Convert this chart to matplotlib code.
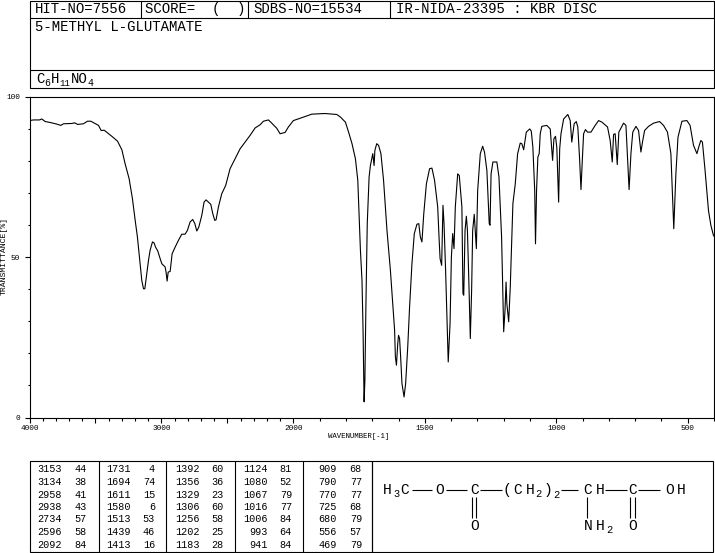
import numpy as np
import matplotlib
matplotlib.use('Agg')
import matplotlib.pyplot as plt
from matplotlib.ticker import NullFormatter

plt.rcParams['font.family'] = ['Liberation Mono', 'DejaVu Sans Mono']

W, H = 715, 553

# spectrum
wavenumber = [4000, 3970, 3924, 3907, 3881, 3843, 3793, 3763, 3742, 3679, 3657, 3636, 3591, 3561, 3535, 3477,
              3457, 3434, 3376, 3333, 3300, 3275, 3245, 3220, 3199, 3182, 3167, 3149, 3136, 3126, 3111, 3098,
              3086, 3068, 3056, 3045, 3028, 3010, 2997, 2985, 2972, 2965, 2957, 2949, 2934, 2919, 2896, 2871,
              2846, 2821, 2803, 2783, 2763, 2747, 2732, 2717, 2694, 2677, 2662, 2626, 2611, 2596, 2586, 2568,
              2543, 2513, 2480, 2442, 2404, 2366, 2328, 2290, 2252, 2227, 2189, 2164, 2126, 2101, 2063, 2038,
              2000, 1975, 1930, 1880, 1835, 1821, 1802, 1790, 1777, 1764, 1755, 1749, 1745, 1739, 1735, 1731,
              1728, 1724, 1719, 1712, 1707, 1698, 1693, 1690, 1683, 1676, 1667, 1657, 1644, 1631, 1621, 1615,
              1612, 1608, 1603, 1600, 1596, 1592, 1587, 1579, 1573, 1565, 1558, 1549, 1540, 1530, 1523, 1517,
              1511, 1504, 1494, 1482, 1473, 1463, 1451, 1446, 1442, 1436, 1431, 1427, 1421, 1416, 1411, 1404,
              1399, 1394, 1389, 1384, 1375, 1369, 1359, 1355, 1352, 1347, 1342, 1338, 1333, 1327, 1322, 1318,
              1312, 1304, 1299, 1289, 1280, 1273, 1264, 1255, 1252, 1248, 1241, 1226, 1218, 1208, 1200, 1195,
              1191, 1188, 1181, 1175, 1165, 1156, 1147, 1137, 1131, 1124, 1114, 1101, 1095, 1089, 1082, 1079,
              1075, 1070, 1065, 1061, 1055, 1036, 1023, 1018, 1014, 1009, 1003, 998, 991, 987, 982, 972,
              956, 947, 941, 932, 924, 918, 911, 906, 901, 896, 889, 881, 868, 852, 839, 826,
              805, 795, 787, 782, 776, 768, 762, 744, 735, 729, 723, 716, 709, 697, 687, 678,
              671, 664, 649, 630, 607, 592, 577, 564, 553, 545, 537, 522, 503, 491, 478, 465,
              456, 450, 444, 434, 421, 412, 402, 400]
transmittance = [92.5, 92.7, 92.7, 93.0, 92.2, 91.9, 91.4, 91.0, 91.5, 91.6, 91.8, 91.3, 91.5, 92.3, 92.3, 91.0,
                 89.4, 89.5, 87.6, 86.1, 83.4, 79.0, 74.4, 68.2, 61.4, 56.2, 50.0, 42.7, 40.1, 40.1, 44.8, 49.0,
                 52.1, 54.7, 54.4, 53.1, 51.9, 49.5, 47.9, 47.4, 46.9, 45.3, 42.5, 45.3, 45.5, 51.0, 53.1, 55.2,
                 57.1, 57.1, 58.3, 60.9, 61.7, 60.4, 58.1, 59.3, 63.0, 67.1, 67.8, 66.4, 63.5, 61.4, 61.6, 65.6,
                 69.7, 72.3, 77.5, 80.6, 83.7, 85.8, 87.9, 90.2, 91.2, 92.3, 92.7, 91.7, 90.1, 88.4, 88.8, 90.5,
                 92.5, 93.2, 94.5, 94.7, 94.4, 93.6, 92.0, 88.9, 85.3, 80.6, 73.9, 60.4, 52.1, 42.7, 27.2, 4.9,
                 11.6, 35.5, 60.4, 74.9, 78.5, 82.2, 78.5, 83.2, 85.3, 84.8, 82.2, 73.9, 58.3, 45.9, 34.4, 27.2,
                 18.9, 16.3, 23.0, 25.6, 24.6, 18.9, 10.6, 6.4, 10.6, 22.0, 34.4, 47.9, 57.3, 60.2, 60.4, 56.2,
                 54.7, 63.5, 72.8, 77.5, 77.7, 73.9, 65.6, 56.2, 49.5, 47.4, 66.1, 60.4, 45.9, 31.3, 17.3, 29.3,
                 50.0, 57.3, 52.6, 65.6, 75.9, 75.4, 65.6, 38.6, 38.1, 58.3, 62.7, 58.3, 43.8, 24.6, 39.6, 58.3,
                 63.3, 52.6, 70.7, 82.2, 84.5, 82.7, 77.0, 60.4, 59.9, 75.9, 79.6, 79.6, 74.9, 56.2, 26.7, 33.4,
                 42.2, 35.5, 29.8, 40.7, 66.6, 72.8, 82.2, 85.5, 85.3, 83.4, 88.9, 89.9, 89.2, 84.2, 70.7, 54.1,
                 70.7, 81.1, 82.2, 88.4, 90.7, 91.0, 89.9, 84.2, 80.1, 86.8, 87.6, 84.2, 67.1, 83.7, 88.4, 93.0,
                 94.4, 92.5, 85.8, 91.5, 92.2, 90.5, 80.1, 71.0, 80.1, 88.4, 89.7, 88.9, 88.9, 91.0, 92.5, 92.0,
                 90.5, 86.3, 79.6, 88.2, 88.4, 78.8, 88.9, 91.7, 91.0, 81.1, 71.0, 82.2, 88.9, 90.7, 89.4, 82.7,
                 86.3, 89.4, 90.7, 91.7, 92.2, 91.0, 88.9, 82.2, 58.8, 75.9, 87.3, 92.3, 92.5, 91.0, 84.8, 82.2,
                 84.8, 86.3, 85.8, 77.0, 64.5, 59.9, 56.7, 56.5]

x_major = [4000, 3500, 3000, 2500, 2000, 1500, 1000, 500]
x_labels = ['4000', '', '3000', '', '2000', '1500', '1000', '500']
y_major = [0, 50, 100]
y_labels = ['0', '50', '100']

# peak table, one list per column block
peak_wave = [[3153, 3134, 2958, 2938, 2734, 2596, 2092],
             [1731, 1694, 1611, 1580, 1513, 1439, 1413],
             [1392, 1356, 1329, 1306, 1256, 1202, 1183],
             [1124, 1080, 1067, 1016, 1006, 993, 941],
             [909, 790, 770, 725, 680, 556, 469]]
peak_trans = [[44, 38, 41, 43, 57, 58, 84],
              [4, 74, 15, 6, 53, 46, 16],
              [60, 36, 23, 60, 58, 25, 28],
              [81, 52, 79, 77, 84, 64, 84],
              [68, 77, 77, 68, 79, 57, 79]]

fig = plt.figure(figsize=(W / 100, H / 100), dpi=100)

# full figure overlay in pixel coordinates for the frames and captions
bg = fig.add_axes([0, 0, 1, 1])
bg.set_xlim(0, W)
bg.set_ylim(H, 0)
bg.axis('off')


def seg(xs, ys, lw=0.8):
    bg.plot(xs, ys, 'k-', lw=lw, solid_capstyle='butt', solid_joinstyle='miter')


def frame(x0, y0, x1, y1):
    seg([x0, x1, x1, x0, x0], [y0, y0, y1, y1, y0])


def label(x, y, s, size=10.1, ha='left'):
    bg.text(x, y, s, fontsize=size, va='center', ha=ha, color='k')


# header
frame(29.5, 0.5, 714, 87.5)
seg([29.5, 714], [17.5, 17.5])
seg([29.5, 714], [69.5, 69.5])
for xs in [141, 248, 390]:
    seg([xs, xs], [0.5, 17.5])
label(35, 9, 'HIT-NO=7556')
label(145, 9, 'SCORE=  (  )')
label(253, 9, 'SDBS-NO=15534')
label(396, 9, 'IR-NIDA-23395 : KBR DISC')
label(35, 27, '5-METHYL L-GLUTAMATE')
for xp, yp, s, sz in [(36, 79, 'C', 10.1), (44.5, 83, '6', 7), (51, 79, 'H', 10.1), (59.5, 83, '11', 6.5),
                      (71, 79, 'NO', 10.1), (88, 83, '4', 7)]:
    label(xp, yp, s, size=sz)


# spectrum: 2000 and below is drawn at twice the scale of the part above
def fwd(v):
    v = np.asarray(v, dtype=float)
    return -np.where(v >= 2000, (4000 - v) * 0.132, 264 + (2000 - v) * 0.263)


def inv(p):
    p = -np.asarray(p, dtype=float)
    return np.where(p <= 264, 4000 - p / 0.132, 2000 - (p - 264) / 0.263)


ax = fig.add_axes([29.5 / W, 1 - 417.5 / H, (714 - 29.5) / W, (417.5 - 96.5) / H])
ax.patch.set_alpha(0)
ax.set_xscale('function', functions=(fwd, inv))
ax.plot(wavenumber, transmittance, 'k-', lw=0.8)
ax.set_xlim(4000, 400)
ax.set_ylim(0, 100)
ax.set_xticks(x_major)
ax.set_xticklabels(x_labels, fontsize=5.6)
ax.set_xticks([v for v in range(3900, 399, -100) if v not in x_major], minor=True)
ax.xaxis.set_minor_formatter(NullFormatter())
ax.set_yticks(y_major)
ax.set_yticklabels(y_labels, fontsize=5.6)
ax.set_yticks(range(10, 100, 10), minor=True)
ax.tick_params(which='major', length=3.8, width=0.8, pad=1.5)
ax.tick_params(which='minor', length=1.8, width=0.8)
ax.tick_params(axis='y', which='major', pad=3)
for s in ax.spines.values():
    s.set_linewidth(0.8)

label(359, 437, 'WAVENUMBER[-1]', size=5.3, ha='center')
bg.text(4, 256, 'TRANSMITTANCE[%]', fontsize=5.9, rotation=90, va='center', ha='center')

# peak table
frame(29.5, 460.5, 372, 552)
for xs in [99, 166, 235, 303]:
    seg([xs, xs], [460.5, 552])
col_wave = [62, 131, 200, 268, 337]
col_trans = [87, 155, 224, 292, 362]
for c in range(5):
    for r in range(7):
        yy = 469.5 + r * 12.5
        label(col_wave[c], yy, str(peak_wave[c][r]), size=7.3, ha='right')
        label(col_trans[c], yy, str(peak_trans[c][r]), size=7.3, ha='right')

# structure box
frame(372, 460.5, 713, 552)
atoms = [(387, 490, 'H'), (405, 490, 'C'), (440, 490, 'O'), (475, 490, 'C'), (507, 490, '('), (518, 490, 'C'),
         (530, 490, 'H'), (548, 490, ')'), (588, 490, 'C'), (600, 490, 'H'), (633, 490, 'C'), (670, 490, 'O'),
         (681, 490, 'H'), (475, 526, 'O'), (633, 526, 'O'), (588, 526, 'N'), (600, 526, 'H')]
for xp, yp, s in atoms:
    label(xp, yp, s, size=10.5, ha='center')
subs = [(397, 494, '3'), (538, 494, '2'), (556, 495, '2'), (609, 530, '2')]
for xp, yp, s in subs:
    label(xp, yp, s, size=7.5, ha='center')
for x0, x1 in [(412, 432), (446, 467), (480, 502), (561, 578), (605, 627), (638, 660)]:
    seg([x0, x1], [489.5, 489.5])
for xs in [472, 476, 630, 634.5, 587]:
    seg([xs, xs], [497, 518])

fig.savefig('out.png', dpi=100)
